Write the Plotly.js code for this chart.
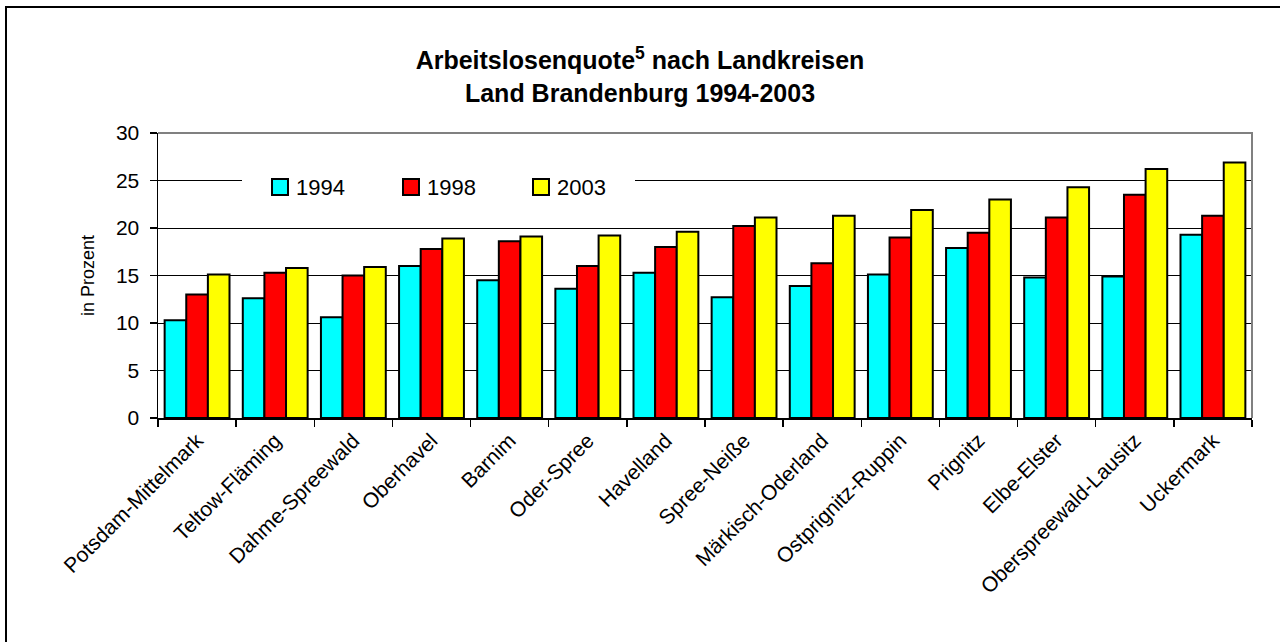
<!DOCTYPE html>
<html>
<head>
<meta charset="utf-8">
<script src="https://cdn.plot.ly/plotly-3.0.1.min.js"></script>
<style>
  html, body { margin: 0; padding: 0; background: #fff; }
  #chart { width: 1280px; height: 642px; }
</style>
</head>
<body>
<div id="chart"></div>
<script>
const categories = [
  "Potsdam-Mittelmark", "Teltow-Fläming", "Dahme-Spreewald", "Oberhavel",
  "Barnim", "Oder-Spree", "Havelland", "Spree-Neiße", "Märkisch-Oderland",
  "Ostprignitz-Ruppin", "Prignitz", "Elbe-Elster", "Oberspreewald-Lausitz", "Uckermark"
];
const seriesNames = ["1994", "1998", "2003"];
const values1994 = [10.3, 12.6, 10.6, 16.0, 14.5, 13.6, 15.3, 12.7, 13.9, 15.1, 17.9, 14.8, 14.9, 19.3];
const values1998 = [13.0, 15.3, 15.0, 17.8, 18.6, 16.0, 18.0, 20.2, 16.3, 19.0, 19.5, 21.1, 23.5, 21.3];
const values2003 = [15.1, 15.8, 15.9, 18.9, 19.1, 19.2, 19.6, 21.1, 21.3, 21.9, 23.0, 24.3, 26.2, 26.9];
const yTicks = [0, 5, 10, 15, 20, 25, 30];

const colors = ["#00FFFF", "#FF0000", "#FFFF00"];
const allValues = [values1994, values1998, values2003];
const FONT = "Liberation Sans, Arial, Helvetica, sans-serif";

const traces = allValues.map((vals, i) => ({
  type: "bar",
  name: seriesNames[i],
  x: categories,
  y: vals,
  marker: { color: colors[i], line: { color: "#000", width: 2 } },
  hoverinfo: "x+y+name"
}));

// plot area in pixels: x 158..1252, y 133..418
const L = 158, R = 28, T = 133, B = 224;
const W = 1280 - L - R, H = 642 - T - B;
const px = v => (v - L) / W;
const py = v => (642 - B - v) / H;

// legend layout (pixels)
const legendLeft = 242, legendRight = 635, legendMidY = 187;
const legendBoxX = [272, 403, 533], legendBoxSize = 16, legendTextGap = 6;

const shapes = [
  // outer chart frame
  { type: "rect", xref: "paper", yref: "paper",
    x0: px(6), x1: px(1300), y0: py(660), y1: py(7),
    line: { color: "#000", width: 2 }, fillcolor: "rgba(0,0,0,0)", layer: "below" },
  // gray top / right border of plot area
  { type: "path", xref: "paper", yref: "paper",
    path: "M 0,1 L 1,1 L 1,0",
    line: { color: "#808080", width: 2 }, layer: "above" },
  // white background behind legend
  { type: "rect", xref: "paper", yref: "paper",
    x0: px(legendLeft), x1: px(legendRight), y0: py(legendMidY + 14), y1: py(legendMidY - 14),
    line: { width: 0 }, fillcolor: "#fff", layer: "above" }
];
const annotations = [];
seriesNames.forEach((name, i) => {
  const x0 = legendBoxX[i];
  shapes.push({
    type: "rect", xref: "paper", yref: "paper",
    x0: px(x0), x1: px(x0 + legendBoxSize),
    y0: py(legendMidY + legendBoxSize / 2), y1: py(legendMidY - legendBoxSize / 2),
    fillcolor: colors[i], line: { color: "#000", width: 2 }, layer: "above"
  });
  annotations.push({
    xref: "paper", yref: "paper",
    x: px(x0 + legendBoxSize + legendTextGap), xanchor: "left",
    y: py(legendMidY), yanchor: "middle",
    text: name, showarrow: false,
    font: { family: FONT, size: 22, color: "#000" }
  });
});

const layout = {
  width: 1280, height: 642,
  margin: { l: L, r: R, t: T, b: B, pad: 0 },
  paper_bgcolor: "#fff", plot_bgcolor: "#fff",
  font: { family: FONT, color: "#000", size: 21 },
  title: {
    text: "<b>Arbeitslosenquote<sup>5</sup> nach Landkreisen<br>Land Brandenburg 1994-2003</b>",
    font: { family: FONT, size: 25, color: "#000" },
    x: 0.5, xref: "container", xanchor: "center",
    y: 1 - 69 / 642, yref: "container", yanchor: "middle"
  },
  barmode: "group",
  bargap: 0.17,
  bargroupgap: 0,
  showlegend: false,
  xaxis: {
    type: "category",
    tickson: "boundaries",
    ticks: "outside", ticklen: 7, tickwidth: 1.5, tickcolor: "#000",
    tickangle: -45,
    tickfont: { family: FONT, size: 21, color: "#000" },
    showline: true, linecolor: "#000", linewidth: 2,
    showgrid: false, zeroline: false,
    fixedrange: true
  },
  yaxis: {
    range: [0, 30],
    tickvals: yTicks,
    ticktext: yTicks.map(String),
    ticks: "outside", ticklen: 7, tickwidth: 1.5, tickcolor: "#000",
    tickfont: { family: FONT, size: 21, color: "#000" },
    ticklabelstandoff: 6,
    showline: true, linecolor: "#000", linewidth: 1.5,
    showgrid: true, gridcolor: "#000", gridwidth: 1,
    zeroline: false,
    title: { text: "in Prozent", font: { family: FONT, size: 18, color: "#000" }, standoff: 16 },
    fixedrange: true
  },
  shapes: shapes,
  annotations: annotations
};

Plotly.newPlot("chart", traces, layout, { displayModeBar: false, staticPlot: true });
</script>
</body>
</html>
